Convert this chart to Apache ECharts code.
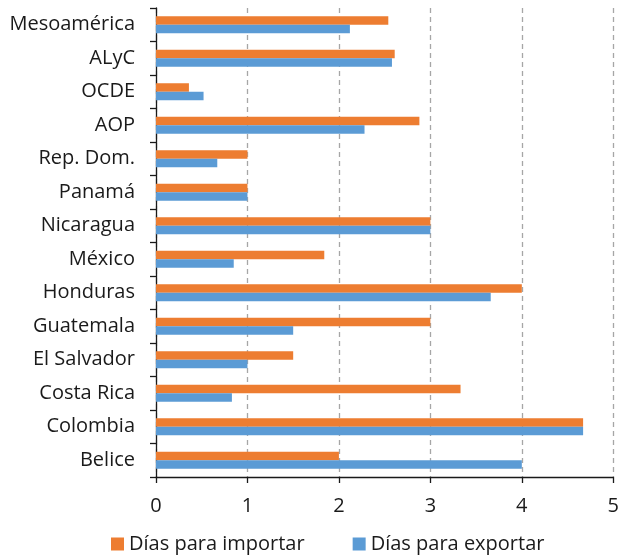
<!DOCTYPE html>
<html>
<head>
<meta charset="utf-8">
<script src="https://cdn.jsdelivr.net/npm/echarts@6/dist/echarts.min.js"></script>
<style>
  html, body { margin: 0; padding: 0; background: #fff; }
  #chart { width: 622px; height: 556px; }
</style>
</head>
<body>
<div id="chart"></div>
<script>
// categories bottom to top
var categories = ['Belice', 'Colombia', 'Costa Rica', 'El Salvador', 'Guatemala', 'Honduras', 'México',
  'Nicaragua', 'Panamá', 'Rep. Dom.', 'AOP', 'OCDE', 'ALyC', 'Mesoamérica'];
var importar = [2.0, 4.67, 3.33, 1.5, 3.0, 4.0, 1.84, 3.0, 1.0, 1.0, 2.88, 0.36, 2.61, 2.54];
var exportar = [4.0, 4.67, 0.83, 1.0, 1.5, 3.66, 0.85, 3.0, 1.0, 0.67, 2.28, 0.52, 2.58, 2.12];
var seriesNames = ['Días para importar', 'Días para exportar'];

var font = '"Open Sans", "Noto Sans", sans-serif';
var chart = echarts.init(document.getElementById('chart'));
chart.setOption({
  animation: false,
  textStyle: { fontFamily: font },
  grid: { left: 156, right: 5, top: 8, bottom: 79, containLabel: false },
  legend: {
    data: seriesNames,
    top: 532,
    left: 106,
    padding: [2, 5, 2, 5],
    itemWidth: 13,
    itemHeight: 13,
    itemGap: 48,
    icon: 'rect',
    textStyle: { fontSize: 20, color: '#1a1a1a', fontFamily: font }
  },
  xAxis: {
    type: 'value',
    min: 0,
    max: 5,
    interval: 1,
    axisLine: { show: true, lineStyle: { color: '#1a1a1a', width: 1.3 } },
    axisTick: { show: true, length: 6, lineStyle: { color: '#1a1a1a', width: 1.3 } },
    axisLabel: { fontSize: 20, color: '#1a1a1a', margin: 19, fontFamily: font },
    splitLine: { show: true, lineStyle: { color: '#a6a6a6', type: [5, 4], width: 1.3 } }
  },
  yAxis: {
    type: 'category',
    data: categories,
    axisLine: { show: true, lineStyle: { color: '#1a1a1a', width: 1.3 } },
    axisTick: { show: true, length: 6, lineStyle: { color: '#1a1a1a', width: 1.3 } },
    axisLabel: { fontSize: 20, color: '#1a1a1a', margin: 21, fontFamily: font },
    splitLine: { show: false }
  },
  series: [
    {
      name: seriesNames[0],
      type: 'bar',
      data: importar,
      barWidth: 8.6,
      barGap: '0%',
      itemStyle: { color: '#ED7D31' }
    },
    {
      name: seriesNames[1],
      type: 'bar',
      data: exportar,
      barWidth: 8.6,
      barGap: '0%',
      itemStyle: { color: '#5B9BD5' }
    }
  ]
});
</script>
</body>
</html>
